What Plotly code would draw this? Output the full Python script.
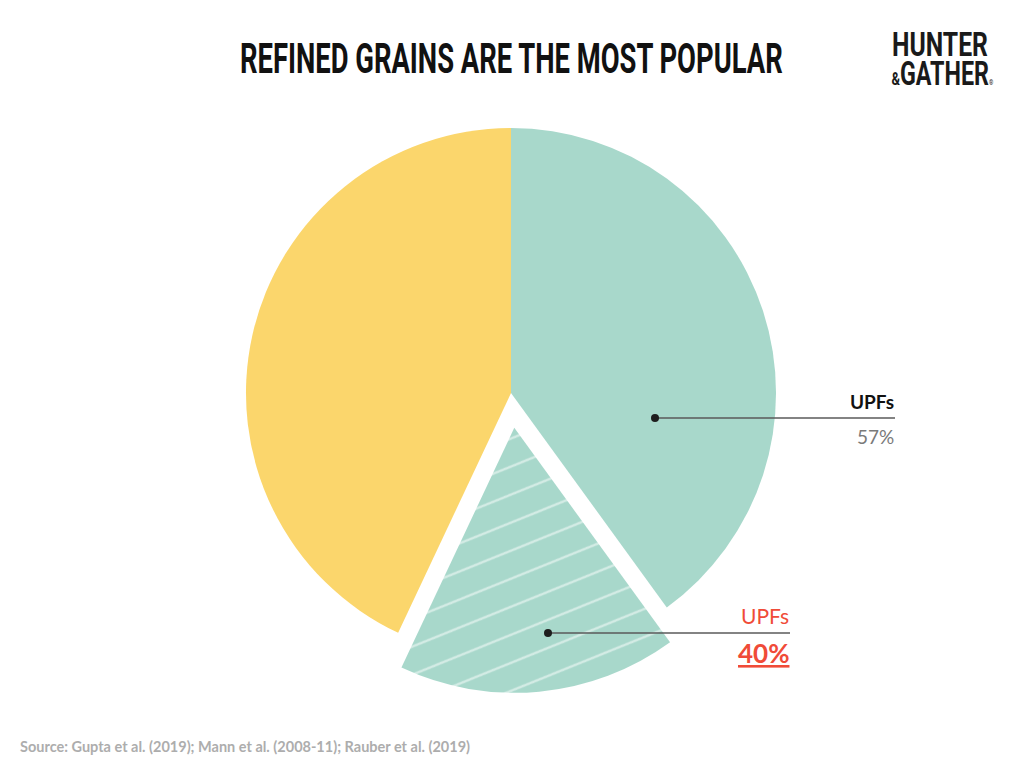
import plotly.graph_objects as go

# ---- data ----
labels = ["UPFs (other)", "UPFs (refined grains)", "Other foods"]
values = [40, 17, 43]
colors = ["#A8D8CB", "#A8D8CB", "#FBD66C"]
patterns = ["", "/", ""]
pulls = [0, 0.132, 0]

title_text = "REFINED GRAINS ARE THE MOST POPULAR"
logo_line1 = "HUNTER"
logo_line2 = "GATHER"
source_text = "Source: Gupta et al. (2019); Mann et al. (2008-11); Rauber et al. (2019)"

W, H = 1024, 767


def px(x):
    return x / W


def py(y):
    return 1 - y / H


fig = go.Figure()
fig.add_trace(go.Pie(
    labels=labels,
    values=values,
    sort=False,
    direction="clockwise",
    rotation=0,
    pull=pulls,
    textinfo="none",
    hoverinfo="label+percent",
    showlegend=False,
    marker=dict(
        colors=colors,
        line=dict(width=0),
        pattern=dict(shape=patterns, fgcolor="white", size=26, solidity=0.09, fillmode="overlay"),
    ),
    domain=dict(x=[px(211), px(811)], y=[py(693), py(93)]),
))

RED = "#F04B38"
condensed = "Roboto, sans-serif"
sans = "Lato, Open Sans, sans-serif"

shapes = [
    dict(type="line", xref="paper", yref="paper", x0=px(655), x1=px(895), y0=py(418), y1=py(418),
         line=dict(color="#5a5a5a", width=1.5)),
    dict(type="circle", xref="paper", yref="paper", x0=px(651), x1=px(659), y0=py(414), y1=py(422),
         fillcolor="#1e1e1e", line=dict(width=0)),
    dict(type="line", xref="paper", yref="paper", x0=px(548), x1=px(790), y0=py(633), y1=py(633),
         line=dict(color="#5a5a5a", width=1.5)),
    dict(type="circle", xref="paper", yref="paper", x0=px(544), x1=px(552), y0=py(629), y1=py(637),
         fillcolor="#1e1e1e", line=dict(width=0)),
]

annotations = [
    dict(text="<b>" + title_text + "</b>", x=px(511), y=py(59), xref="paper", yref="paper",
         showarrow=False, xanchor="center", yanchor="middle",
         font=dict(family=condensed, size=42, color="#111111")),
    dict(text="<b>" + logo_line1 + "</b>", x=px(940), y=py(44), xref="paper", yref="paper",
         showarrow=False, xanchor="center", yanchor="middle",
         font=dict(family=condensed, size=34, color="#1a1a1a")),
    dict(text="<b><span style='font-size:19px'>&</span>" + logo_line2 + "</b><span style='font-size:8px'>®</span>",
         x=px(942), y=py(73), xref="paper", yref="paper",
         showarrow=False, xanchor="center", yanchor="middle",
         font=dict(family=condensed, size=34, color="#1a1a1a")),
    dict(text="<b>UPFs</b>", x=px(896), y=py(402), xref="paper", yref="paper", showarrow=False,
         xanchor="right", yanchor="middle", font=dict(family=sans, size=19, color="#111111")),
    dict(text="57%", x=px(896), y=py(436), xref="paper", yref="paper", showarrow=False,
         xanchor="right", yanchor="middle", font=dict(family=sans, size=19, color="#7a7a7a")),
    dict(text="UPFs", x=px(791), y=py(615), xref="paper", yref="paper", showarrow=False,
         xanchor="right", yanchor="middle", font=dict(family=sans, size=21, color=RED)),
    dict(text="<b><u>40%</u></b>", x=px(791), y=py(653), xref="paper", yref="paper", showarrow=False,
         xanchor="right", yanchor="middle", font=dict(family=sans, size=26, color=RED)),
    dict(text="<b>" + source_text + "</b>", x=px(18), y=py(746), xref="paper", yref="paper",
         showarrow=False, xanchor="left", yanchor="middle",
         font=dict(family=sans, size=14.5, color="#ADADAD")),
]

fig.update_layout(
    width=W, height=H,
    margin=dict(l=0, r=0, t=0, b=0),
    paper_bgcolor="white", plot_bgcolor="white",
    shapes=shapes, annotations=annotations,
)

# remove the page margin, narrow the condensed headline / logo texts horizontally,
# and tilt the hatch pattern to the shallower angle of the original
post = """
document.body.style.margin = '0';
var gd = document.getElementById('{plot_id}');
var targets = {0: 543, 1: 96, 2: 102};
gd.querySelectorAll('g.annotation').forEach(function(g) {
  var idx = g.getAttribute('data-index');
  if (!(idx in targets)) return;
  var t = g.querySelector('text.annotation-text');
  if (!t) return;
  var b = t.getBBox();
  var sx = targets[idx] / b.width;
  var cx = b.x + b.width / 2;
  t.setAttribute('transform', 'translate(' + cx + ',0) scale(' + sx + ',1) translate(' + (-cx) + ',0)');
});
document.querySelectorAll('pattern').forEach(function(p) {
  p.setAttribute('patternTransform', 'rotate(23)');
});
"""

fig.write_html("out.html", post_script=post, config={"displayModeBar": False})
